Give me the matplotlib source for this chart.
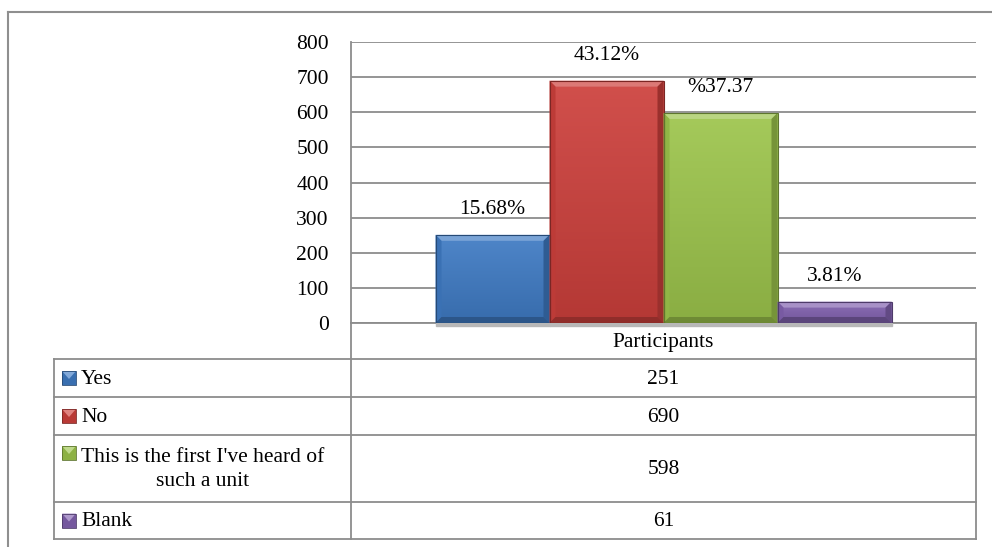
import numpy as np
import matplotlib
matplotlib.use("Agg")
import matplotlib.pyplot as plt
from matplotlib.patches import Rectangle, Polygon
import matplotlib.colors as mcolors

# ---------------- data ----------------
categories = ["Yes", "No", "This is the first I've heard of\nsuch a unit", "Blank"]
values = [251, 690, 598, 61]
pct_labels = ["15.68%", "43.12%", "%37.37", "3.81%"]
group_label = "Participants"
yticks = [0, 100, 200, 300, 400, 500, 600, 700, 800]
colors = ["#3F7BC4", "#CD403C", "#9DC54C", "#8262B0"]

plt.rcParams['font.family'] = ['Liberation Serif', 'DejaVu Serif']
FS = 15.5
GRID = "#8c8c8c"

W, H = 992, 547
fig = plt.figure(figsize=(W / 100, H / 100), dpi=100)


def fx(px):
    return px / W


def fy(py):
    return 1 - py / H


def shade(c, f):
    r, g, b = mcolors.to_rgb(c)
    if f >= 0:
        return (r + (1 - r) * f, g + (1 - g) * f, b + (1 - b) * f)
    f = -f
    return (r * (1 - f), g * (1 - f), b * (1 - f))


# background overlay axes in pixel coordinates (for table / frame)
bg = fig.add_axes([0, 0, 1, 1], zorder=0)
bg.set_xlim(0, W)
bg.set_ylim(H, 0)
bg.axis("off")

# main plot axes
L, R, T, B = 351, 976, 42, 323
ax = fig.add_axes([fx(L), fy(B), fx(R) - fx(L), fy(T) - fy(B)], zorder=2)
ax.set_facecolor("none")
ax.set_ylim(0, 800)
ax.set_xlim(0, 1)
ax.set_yticks(yticks)
ax.set_yticklabels([str(t) for t in yticks], fontsize=FS)
ax.tick_params(axis="y", length=0, pad=16)
ax.set_xticks([])
for s in ["top", "right", "bottom"]:
    ax.spines[s].set_visible(False)
ax.spines["left"].set_color(GRID)
ax.spines["left"].set_linewidth(1.3)
ax.yaxis.grid(True, color=GRID, linewidth=1.3)
ax.set_axisbelow(True)

n = len(values)
w = 114 / (R - L)
xs = 0.5 + (np.arange(n) - (n - 1) / 2) * w
bars = ax.bar(xs, values, width=w, color=colors, edgecolor="none", zorder=3)

px_x = 1 / (R - L)
px_y = 800 / (B - T)
bx, by = 6 * px_x, 6 * px_y
grad = np.linspace(0, 1, 64).reshape(-1, 1)
for bar, c in zip(bars, colors):
    x0, y0 = bar.get_x(), bar.get_y()
    x1, y1 = x0 + bar.get_width(), y0 + bar.get_height()
    cmap = mcolors.LinearSegmentedColormap.from_list("g", [shade(c, -0.12), shade(c, 0.08)])
    im = ax.imshow(grad, extent=[x0, x1, y0, y1], origin="lower", aspect="auto",
                   cmap=cmap, zorder=3.5)
    im.set_clip_path(bar)
    byy = min(by, (y1 - y0) / 2.5)
    # shadow
    ax.add_patch(Rectangle((x0, y0 - 3 * px_y), x1 - x0, 3 * px_y,
                           color="#b8b8b8", zorder=2.8, clip_on=False))
    ax.add_patch(Polygon([(x0, y1), (x1, y1), (x1 - bx, y1 - byy), (x0 + bx, y1 - byy)],
                         closed=True, color=shade(c, 0.3), zorder=4, lw=0))
    ax.add_patch(Polygon([(x0, y0), (x0, y1), (x0 + bx, y1 - byy), (x0 + bx, y0 + byy)],
                         closed=True, color=shade(c, -0.08), zorder=4, lw=0))
    ax.add_patch(Polygon([(x1, y0), (x1, y1), (x1 - bx, y1 - byy), (x1 - bx, y0 + byy)],
                         closed=True, color=shade(c, -0.25), zorder=4, lw=0))
    ax.add_patch(Polygon([(x0, y0), (x1, y0), (x1 - bx, y0 + byy), (x0 + bx, y0 + byy)],
                         closed=True, color=shade(c, -0.3), zorder=4, lw=0))
    ax.add_patch(Rectangle((x0, y0), x1 - x0, y1 - y0, fill=False,
                           edgecolor=shade(c, -0.4), lw=0.8, zorder=4.5))

for x, v, lab in zip(xs, values, pct_labels):
    ax.annotate(lab, (x, v), xytext=(0, 18), textcoords="offset points",
                ha="center", va="center", fontsize=FS, zorder=5)

# ---------------- frame ----------------
FR = "#8f8f8f"
bg.plot([8, W], [12, 12], color=FR, lw=1.5)
bg.plot([8, 8], [12, H], color=FR, lw=1.5)

# ---------------- data table ----------------
row_edges = [323, 359, 397, 435, 502, 539]
TL = 54
bg.plot([L, L], [B, row_edges[-1]], color=GRID, lw=1.3)
bg.plot([R, R], [B, row_edges[-1]], color=GRID, lw=1.3)
bg.plot([TL, TL], [row_edges[1], row_edges[-1]], color=GRID, lw=1.3)
bg.plot([L, R], [B, B], color=GRID, lw=1.3)
for ye in row_edges[1:]:
    bg.plot([TL, R], [ye, ye], color=GRID, lw=1.3)

bg.text((L + R) / 2, (row_edges[0] + row_edges[1]) / 2 + 1, group_label,
        ha="center", va="center", fontsize=FS)

for i, (cat, v, c) in enumerate(zip(categories, values, colors)):
    ytop, ybot = row_edges[i + 1], row_edges[i + 2]
    yc = (ytop + ybot) / 2
    bg.text((L + R) / 2, yc + 1, str(v), ha="center", va="center", fontsize=FS)
    nlines = cat.count("\n") + 1
    if nlines > 1:
        key_y = ytop + 18
        bg.text(81, yc + 1, cat, ha="left", va="center", multialignment="center",
                fontsize=FS, linespacing=1.4)
    else:
        key_y = yc
        bg.text(81, yc + 1, cat, ha="left", va="center", fontsize=FS)
    k0, k1 = 62, 76
    ky0, ky1 = key_y - 7, key_y + 7
    bg.add_patch(Rectangle((k0, ky0), k1 - k0, ky1 - ky0, color=shade(c, -0.1), lw=0))
    bg.add_patch(Polygon([(k0, ky0), (k1, ky0), ((k0 + k1) / 2, key_y + 1)], color=shade(c, 0.35), lw=0))
    bg.add_patch(Rectangle((k0, ky0), k1 - k0, ky1 - ky0, fill=False,
                           edgecolor=shade(c, -0.4), lw=0.6))

fig.savefig("out.png", dpi=100)
